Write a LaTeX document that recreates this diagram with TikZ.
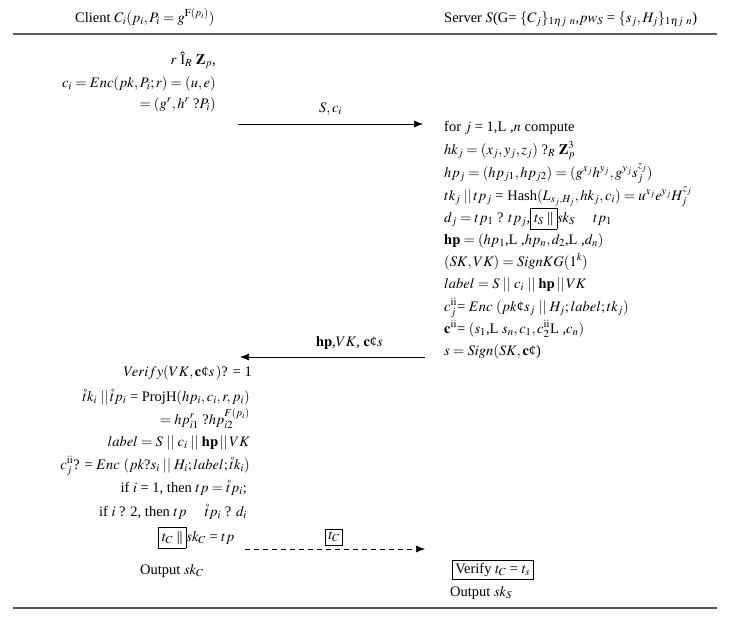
\documentclass[tikz,border=0pt]{standalone}
\usepackage{mathptmx}
\usepackage{fontspec}
\setmainfont{Liberation Serif}
\usetikzlibrary{positioning,arrows.meta}

\begin{document}
\begin{tikzpicture}[x=1pt, y=-1pt,
    txt/.style={anchor=base west, inner sep=0pt, font=\fontsize{14.5}{17}\selectfont},
    rtxt/.style={txt, anchor=base east},
    tagbox/.style={draw, semithick, inner sep=3pt, font=\fontsize{14.5}{17}\selectfont},
    msg/.style={-{Latex[length=9pt,width=7pt]}, semithick},
    rule/.style={line width=1.6pt, black!65}
]
    \useasboundingbox (0,0) rectangle (729,622);
    \setlength{\fboxsep}{3.5pt}

    % Headers and rules
    \node[txt] (client) at (75,22) {Client $C_i(p_i,P_i = g^{\mathrm{F}(p_i)})$};
    \node[txt] (server) at (444,22) {Server $S$(G= $\{C_j\}_{1\eta j\;\,n}$,$pw_S$ = $\{s_j,H_j\}_{1\eta j\;\,n}$)};
    \coordinate (topL) at (13,34);
    \coordinate (topR) at (717,34);
    \coordinate (botL) at (13,608);
    \coordinate (botR) at (717,608);
    \draw[rule] (topL) -- (topR);
    \draw[rule] (botL) -- (botR);

    % Client, first step
    \node[rtxt] (c1) at (216,64) {$r$ Î$_R$ $\mathbf{Z}_p$,};
    \node[rtxt] (c2) at (216,87) {$c_i = Enc(pk,P_i;r) = (u,e)$};
    \node[rtxt] (c3) at (216,108) {$= (g^r,h^r$ ?$P_i)$};

    % Server
    \node[txt] (s1) at (444,131) {for $j$ = 1,L ,$n$ compute};
    \node[txt] (s2) at (444,154) {$hk_j = (x_j,y_j,z_j)$ ?$_R$ $\mathbf{Z}_p^3$};
    \node[txt] (s3) at (444,177) {$hp_j = (hp_{j1},hp_{j2}) = (g^{x_j}h^{y_j},g^{y_j}s_j^{z_j})$};
    \node[txt] (s4) at (444,200) {$tk_j\;||\,tp_j$ = Hash$(L_{s_j,H_j},hk_j,c_i) = u^{x_j}e^{y_j}H_j^{z_j}$};
    \node[txt] (s5) at (444,222) {$d_j = tp_1$ ? $tp_j$,\fbox{$t_S$ ||}$sk_S$\quad\ $tp_1$};
    \node[txt] (s6) at (444,244) {$\mathbf{hp} = (hp_1$,L ,$hp_n,d_2$,L ,$d_n)$};
    \node[txt] (s7) at (444,266) {$(SK,VK) = SignKG(1^k)$};
    \node[txt] (s8) at (444,288) {$label = S\;||\;c_i\;||\;\mathbf{hp}\,||\,VK$};
    \node[txt] (s9) at (444,311) {$c_j^{\mathrm{ii}}$= $Enc\ (pk$¢$s_j\;||\;H_j;label;tk_j)$};
    \node[txt] (s10) at (444,333) {$\mathbf{c}^{\mathrm{ii}}$= $(s_1$,L $s_n,c_1,c_2^{\mathrm{ii}}$L ,$c_n)$};
    \node[txt] (s11) at (444,355) {$s = Sign(SK,\mathbf{c}$¢)};

    % Client, second step
    \node[rtxt] (v1) at (252,376) {$Verify(VK,\mathbf{c}$¢$s\,)$? = 1};
    \node[rtxt] (v2) at (250,401) {$\mathring{t}k_i\;||\,\mathring{t}p_i$ = ProjH$(hp_i,c_i,r,p_i)$};
    \node[rtxt] (v3) at (250,424) {$= hp_{i1}^r$ ?$hp_{i2}^{F(p_i)}$};
    \node[rtxt] (v4) at (250,446) {$label = S\;||\;c_i\;||\;\mathbf{hp}\,||\,VK$};
    \node[rtxt] (v5) at (250,469) {$c_j^{\mathrm{ii}}$? = $Enc\ (pk$?$s_i\;||\;H_i;label;\mathring{t}k_i)$};
    \node[rtxt] (v6) at (247,492) {if $i$ = 1, then $tp = \mathring{t}p_i$;};
    \node[rtxt] (v7) at (247,516) {if $i$ ? 2, then $tp$\quad\ $\mathring{t}p_i$ ? $d_i$};
    \node[txt] (v8) at (158,541) {\fbox{$t_C$ ||}$sk_C$ = $tp$};
    \node[txt] (outc) at (140,574) {Output $sk_C$};

    % Server, check
    \node[tagbox, anchor=north west] (chk) at (452,560) {Verify $t_C$ = $t_s$};
    \node[txt] (outs) at (450,596) {Output $sk_S$};

    % Messages
    \coordinate (m1a) at (238,124);
    \coordinate (m1b) at (423,124);
    \draw[msg] (m1a) -- node[above=5pt, font=\fontsize{14.5}{17}\selectfont] (m1) {$S,c_i$} (m1b);
    \coordinate (m2a) at (425,357);
    \coordinate (m2b) at (240,357);
    \draw[msg] (m2a) -- node[above=4pt, font=\fontsize{14.5}{17}\selectfont, xshift=17pt] (m2) {$\mathbf{hp}$,$VK$, $\mathbf{c}$¢$s$} (m2b);
    \coordinate (m3a) at (245,549);
    \coordinate (m3b) at (425,549);
    \draw[msg, dash pattern=on 5pt off 4pt] (m3a) -- (m3b);
    \node[tagbox] (tc) at (334,537) {$t_C$};
\end{tikzpicture}
\end{document}
